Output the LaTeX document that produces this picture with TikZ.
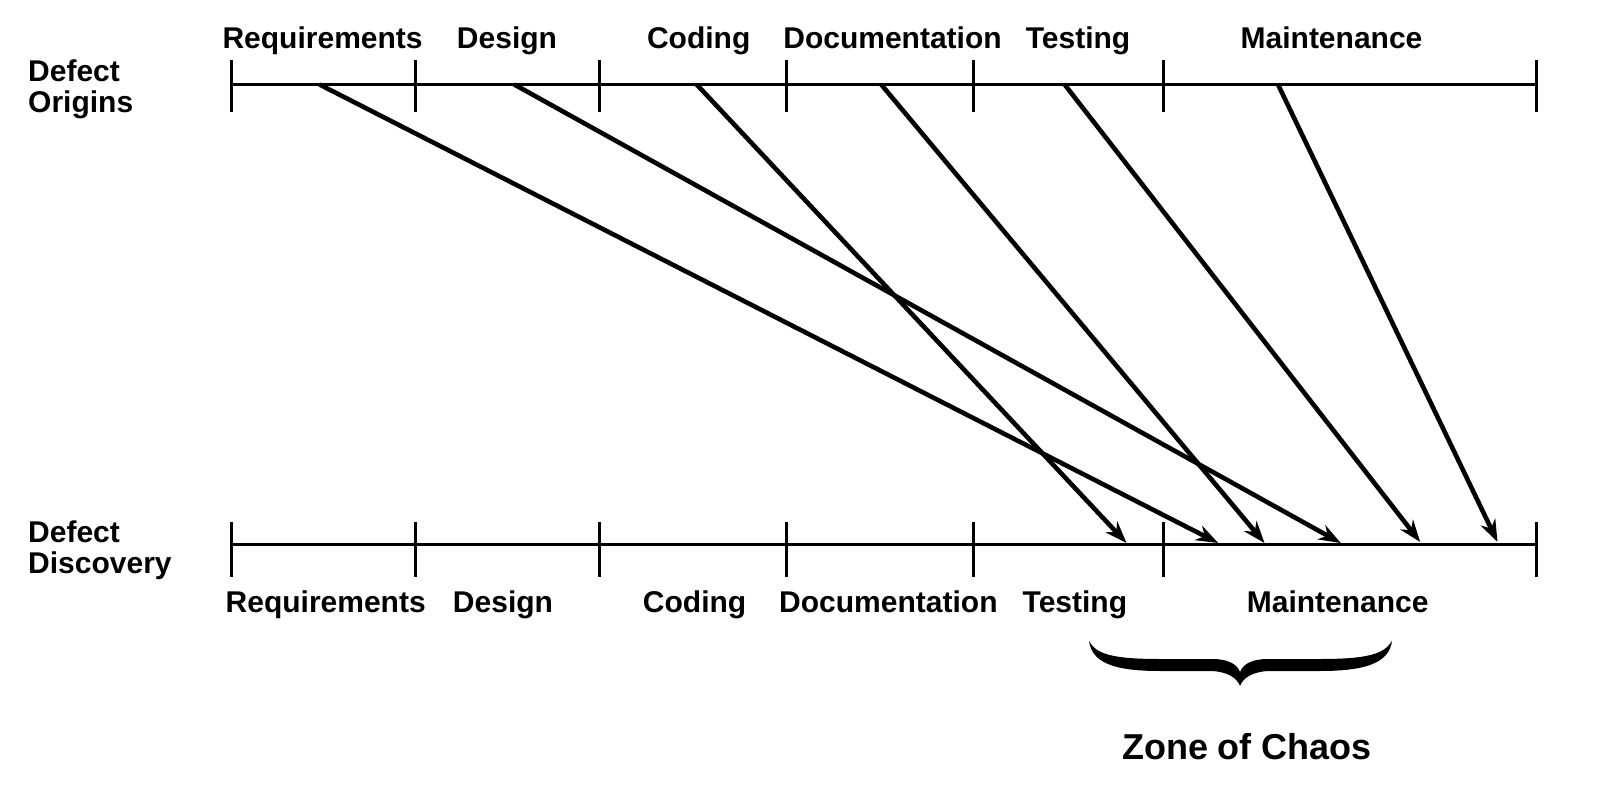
\documentclass[tikz,border=0pt]{standalone}
\usepackage{fontspec}
\setmainfont{Liberation Sans}
\usetikzlibrary{arrows.meta}
\tikzset{
  lbl/.style={font=\bfseries\fontsize{30}{31}\selectfont, inner sep=0pt, anchor=base},
  side/.style={font=\bfseries\fontsize{30}{31}\selectfont, inner sep=0pt, anchor=north west, align=left},
  axisline/.style={line width=3pt},
  arr/.style={line width=4.6pt, -{Stealth[length=22pt,width=16pt,inset=7pt]}},
}
\begin{document}
\begin{tikzpicture}[x=1pt,y=-1pt]
\useasboundingbox (0,0) rectangle (1616,810);
% axes
\foreach \i/\x in {0/231,1/415,2/599,3/786,4/973,5/1163,6/1536}{
  \coordinate (t\i) at (\x,84.5);
  \coordinate (b\i) at (\x,544.5);
  \draw[axisline] (\x,60) -- (\x,112);
  \draw[axisline] (\x,522) -- (\x,577);
}
\draw[axisline] (t0) -- (t6);
\draw[axisline] (b0) -- (b6);
% labels
\node[side] (origins) at (28,60) {Defect\\Origins};
\node[side] (discovery) at (28,521) {Defect\\Discovery};
\node[lbl] (tr) at (322.6,48.5) {Requirements};
\node[lbl] (td) at (507,48.5) {Design};
\node[lbl] (tc) at (698.7,48.5) {Coding};
\node[lbl] (tdoc) at (892.5,48.5) {Documentation};
\node[lbl] (tt) at (1078,48.5) {Testing};
\node[lbl] (tm) at (1331.5,48.5) {Maintenance};
\node[lbl] (br) at (325.7,612) {Requirements};
\node[lbl] (bd) at (503,612) {Design};
\node[lbl] (bc) at (694.6,612) {Coding};
\node[lbl] (bdoc) at (888.4,612) {Documentation};
\node[lbl] (bt) at (1074.9,612) {Testing};
\node[lbl] (bm) at (1337.7,612) {Maintenance};
% arrows
\coordinate (o1) at (319.5,84.5);
\coordinate (o2) at (514.3,84.5);
\coordinate (o3) at (696.7,84.5);
\coordinate (o4) at (881.2,84.5);
\coordinate (o5) at (1064.6,84.5);
\coordinate (o6) at (1278,84.5);
\coordinate (d1) at (1218.2,543);
\coordinate (d2) at (1340.8,543);
\coordinate (d3) at (1126.5,543);
\coordinate (d4) at (1264.5,543);
\coordinate (d5) at (1420.2,542);
\coordinate (d6) at (1497.5,542);
\draw[arr] (o1) -- (d1);
\draw[arr] (o2) -- (d2);
\draw[arr] (o3) -- (d3);
\draw[arr] (o4) -- (d4);
\draw[arr] (o5) -- (d5);
\draw[arr] (o6) -- (d6);
% brace
\fill (1089,641) .. controls (1092,662) and (1112,671) .. (1160,671)
  -- (1212,671) .. controls (1228,672) and (1237,678) .. (1240,686)
  .. controls (1243,678) and (1252,672) .. (1268,671)
  -- (1320,671) .. controls (1368,671) and (1389,662) .. (1392,641)
  .. controls (1384,654) and (1368,659) .. (1320,659)
  -- (1268,659) .. controls (1252,659) and (1243,664) .. (1240,672)
  .. controls (1237,664) and (1228,659) .. (1212,659)
  -- (1160,659) .. controls (1112,659) and (1096,654) .. (1089,641) -- cycle;
\node[font=\bfseries\fontsize{36}{38}\selectfont, inner sep=0pt, anchor=base] (zone) at (1247,759.5) {Zone of Chaos};
\end{tikzpicture}
\end{document}
